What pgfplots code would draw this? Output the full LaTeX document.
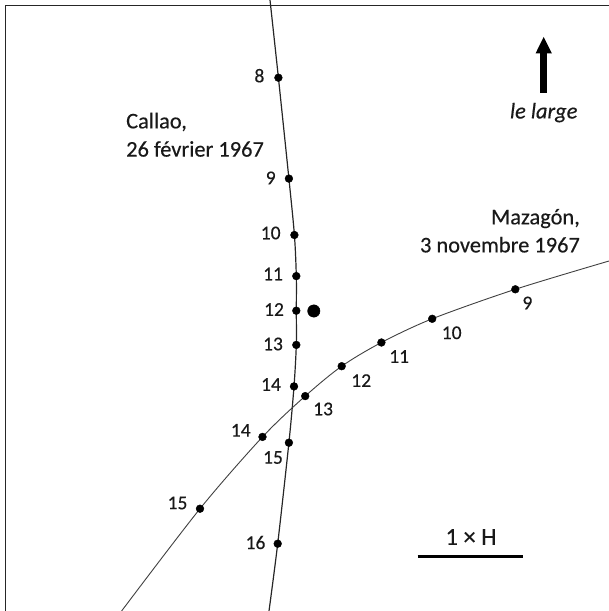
\documentclass[border=0pt]{standalone}
\usepackage{fontspec}
\setmainfont{Carlito}[FakeBold=0.35]
\usepackage{pgfplots}
\pgfplotsset{compat=1.18}
\usetikzlibrary{arrows.meta}
\begin{document}
\begin{tikzpicture}
\begin{axis}[
  width=609bp, height=611bp, scale only axis,
  xmin=0, xmax=609, ymin=0, ymax=611, y dir=reverse,
  hide axis, clip=true,
]
\path (rel axis cs:0,0) rectangle (rel axis cs:1,1);
% frame (left and top edges visible)
\draw[line width=1.2bp, black!85] (axis cs:5.5,615) -- (axis cs:5.5,5.5) -- (axis cs:615,5.5);
% Callao track
\addplot[smooth, line width=1.2bp, black!85, no marks] coordinates {
 (270,0) (278.4,77.7) (288.9,178.6) (294.4,235) (296.3,276.1) (296.3,310.7)
 (296.3,344.9) (294,386.4) (288.9,442.7) (277.7,543.7) (269,611)
};
\addplot[only marks, mark=*, mark size=3.9bp, black] coordinates {
 (278.4,77.7) (288.9,178.6) (294.4,235) (296.3,276.1) (296.3,310.7)
 (296.3,344.9) (294,386.4) (288.9,442.7) (277.7,543.7)
};
% big dot
\addplot[only marks, mark=*, mark size=6.2bp, black] coordinates {(313.8,311)};
% Mazagon track
\addplot[smooth, line width=0.9bp, black!75, no marks] coordinates {
 (609,261) (515.3,289.3) (432.2,318.8) (381.4,342.5) (341.7,366.2)
 (305.2,396.1) (262.5,436.9) (200,508.7) (121.6,611)
};
\addplot[only marks, mark=*, mark size=3.9bp, black] coordinates {
 (515.3,289.3) (432.2,318.8) (381.4,342.5) (341.7,366.2)
 (305.2,396.1) (262.5,436.9) (200,508.7)
};
% Callao labels
\begin{scope}[every node/.style={font=\fontsize{19.5bp}{22bp}\selectfont, text=black!90, inner sep=0pt}]
\node at (axis cs:259.4,75.7) {8};
\node at (axis cs:270.7,177.9) {9};
\node at (axis cs:270.7,233) {10};
\node at (axis cs:273,274) {11};
\node at (axis cs:274,309.5) {12};
\node at (axis cs:273,344) {13};
\node at (axis cs:271,384.5) {14};
\node at (axis cs:273,457.5) {15};
\node at (axis cs:255.5,542.5) {16};
% Mazagon labels
\node at (axis cs:527.4,303) {9};
\node at (axis cs:451.7,332.8) {10};
\node at (axis cs:399.2,356.5) {11};
\node at (axis cs:361.2,380.6) {12};
\node at (axis cs:323.1,409) {13};
\node at (axis cs:240.8,430.3) {14};
\node at (axis cs:177.5,503) {15};
\end{scope}
\begin{scope}[every node/.style={font=\fontsize{22.4bp}{27bp}\selectfont, text=black!90, inner sep=0pt}]
\node[anchor=west] at (axis cs:126,122) {Callao,};
\node[anchor=west] at (axis cs:126,149) {26 février 1967};
\node[anchor=east] at (axis cs:580,218.6) {Mazagón,};
\node[anchor=east] at (axis cs:580,244.7) {3 novembre 1967};
\node at (axis cs:543.7,112.6) {\itshape le large};
\node at (axis cs:471,537) {\fontsize{24.5bp}{28bp}\selectfont 1 × H};
\end{scope}
\draw[line width=7.5bp, black, -{Triangle[width=15bp, length=17bp]}] (axis cs:543.7,93) -- (axis cs:543.7,36.5);
\draw[line width=3bp, black] (axis cs:417.5,556) -- (axis cs:523,556);
\end{axis}
\end{tikzpicture}
\end{document}
